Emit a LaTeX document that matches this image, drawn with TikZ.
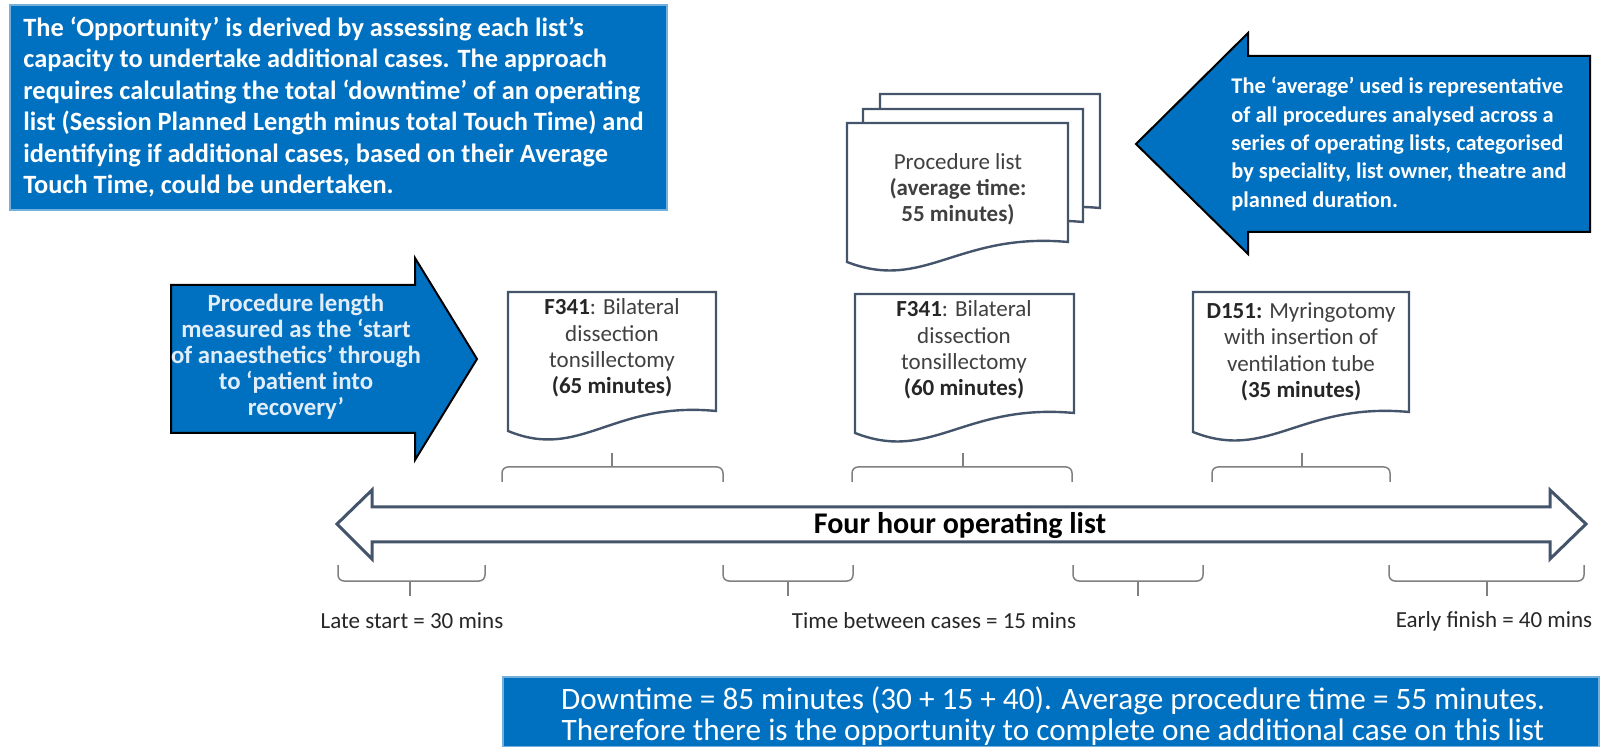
\documentclass[tikz,border=0pt]{standalone}
\usepackage{fontspec}
\setmainfont{Carlito}
\usepackage{tikz}
\usetikzlibrary{positioning}
\definecolor{listblue}{RGB}{0,112,192}
\definecolor{slateblue}{RGB}{68,84,106}
\definecolor{bracegray}{RGB}{128,128,128}
\definecolor{doctext}{RGB}{64,64,64}
\definecolor{paleblue}{RGB}{225,238,250}
\tikzset{
  infobox/.style={fill=listblue, draw=listblue!55, line width=0.6pt},
  bluearrow/.style={fill=listblue, draw=black, line width=1pt, line join=miter},
  infotext/.style={text=white, font=\bfseries\fontsize{13.2}{15.7}\selectfont, align=left, inner sep=0pt},
  arrowtext/.style={text=white, font=\bfseries\fontsize{11.2}{14.2}\selectfont, inner sep=0pt},
  sheet/.style={fill=white, draw=slateblue, line width=1.2pt},
  sheettext/.style={text=doctext, font=\fontsize{11.5}{13.2}\selectfont, align=center, inner sep=0pt},
  timeline/.style={fill=white, draw=slateblue, line width=1.5pt, line join=miter},
  bracket/.style={draw=bracegray, line width=0.75pt, rounded corners=3pt},
  spanlabel/.style={text=black!85, font=\fontsize{11.5}{14}\selectfont, inner sep=0pt},
}
% page with a wavy foot: left, top, right, bottom
\newcommand{\wavypage}[4]{%
  \draw[sheet] (#1,#4) -- (#1,#2) -- (#3,#2) -- (#3,#4-20)
    .. controls ({#1+0.5*(#3-#1)},#4-30) and ({#1+0.35*(#3-#1)},#4+30) .. (#1,#4) -- cycle;}

\begin{document}
\begin{tikzpicture}[x=0.5pt, y=-0.5pt]
\useasboundingbox (0,0) rectangle (1609,747);

% explanation box
\draw[infobox] (10,5) rectangle (667,210);
\node[infotext, anchor=west] (opportunity) at (23,107) {The ‘Opportunity’ is derived by assessing each list’s\\
capacity to undertake additional cases. The approach\\
requires calculating the total ‘downtime’ of an operating\\
list (Session Planned Length minus total Touch Time) and\\
identifying if additional cases, based on their Average\\
Touch Time, could be undertaken.};

% stack of procedure sheets
\wavypage{880}{94}{1100}{228}
\wavypage{863}{109}{1083}{242}
\wavypage{847}{123}{1068}{262}
\node[sheettext, font=\fontsize{11.5}{13}\selectfont] (proclist) at (958,189)
  {Procedure list\\\textbf{(average time:}\\\textbf{55 minutes)}};

% average arrow
\draw[bluearrow] (1136,144) -- (1248,33) -- (1248,56) -- (1590,56) -- (1590,232)
  -- (1248,232) -- (1248,254) -- cycle;
\node[arrowtext, align=left, anchor=west] (avgnote) at (1231,144)
  {The ‘average’ used is representative\\of all procedures analysed across a\\
   series of operating lists, categorised\\by speciality, list owner, theatre and\\
   planned duration.};

% length arrow
\draw[bluearrow] (171,285) -- (415,285) -- (415,258) -- (477,359) -- (415,460)
  -- (415,433) -- (171,433) -- cycle;
\node[arrowtext, text=paleblue, align=center, font=\bfseries\fontsize{12.4}{13}\selectfont]
  (lengthnote) at (296,357)
  {Procedure length\\measured as the ‘start\\of anaesthetics’ through\\to ‘patient into\\recovery’};

% cases
\wavypage{508}{292}{716}{431}
\wavypage{855}{294}{1074}{433}
\wavypage{1193}{292}{1409}{432}
\node[sheettext] (caseone) at (612,348)
  {\textcolor{black!85}{\textbf{F341}}: Bilateral\\dissection\\tonsillectomy\\\textcolor{black!85}{\textbf{(65 minutes)}}};
\node[sheettext] (casetwo) at (964,350)
  {\textcolor{black!85}{\textbf{F341}}: Bilateral\\dissection\\tonsillectomy\\\textcolor{black!85}{\textbf{(60 minutes)}}};
\node[sheettext] (casethree) at (1301,352)
  {\textcolor{black!85}{\textbf{D151:}} Myringotomy\\with insertion of\\ventilation tube\\\textcolor{black!85}{\textbf{(35 minutes)}}};

% brackets over the cases
\foreach \a/\m/\b in {502/612/723, 852/963/1072, 1212/1302/1390} {
  \draw[bracket] (\a,482) |- (\m,467) -| (\b,482);
  \draw[bracket] (\m,467) -- (\m,453);
}

% timeline
\draw[timeline] (337,524) -- (372,490) -- (372,507) -- (1550,507) -- (1550,490)
  -- (1586,524) -- (1550,559) -- (1550,542) -- (372,542) -- (372,559) -- cycle;
\node[font=\bfseries\fontsize{15}{17}\selectfont] (fourhour) at (960,525) {Four hour operating list};

% brackets under the gaps
\foreach \a/\m/\b in {338/410/485, 723/788/853, 1073/1138/1203, 1389/1487/1584} {
  \draw[bracket] (\a,565) |- (\m,581) -| (\b,565);
  \draw[bracket] (\m,581) -- (\m,596);
}
\node[spanlabel] (latestart) at (412,621) {Late start = 30 mins};
\node[spanlabel] (betweencases) at (934,621) {Time between cases = 15 mins};
\node[spanlabel] (earlyfinish) at (1494,621) {Early finish = 40 mins};

% conclusion box
\draw[infobox] (503,677) rectangle (1599,747);
\node[infotext, align=center, font=\fontsize{15.6}{15.2}\selectfont] (downtime) at (1053,716)
  {Downtime = 85 minutes (30 + 15 + 40). Average procedure time = 55 minutes.\\
   Therefore there is the opportunity to complete one additional case on this list};
\end{tikzpicture}
\end{document}
